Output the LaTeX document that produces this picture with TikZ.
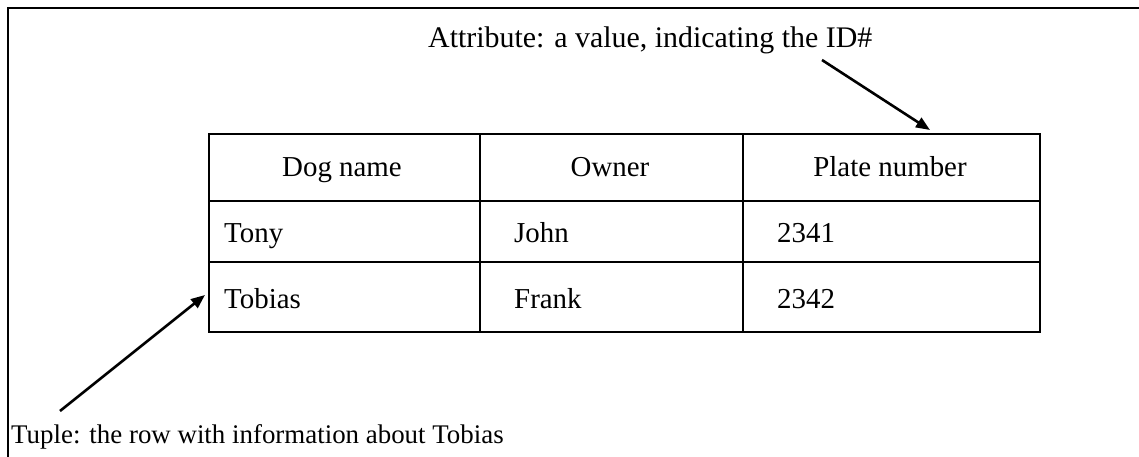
\documentclass[tikz,border=0pt]{standalone}
\usepackage{fontspec}
\setmainfont{Liberation Serif}
\usetikzlibrary{arrows.meta}
\begin{document}
\begin{tikzpicture}[x=1bp,y=-1bp,
  frame/.style={line width=2.6bp},
  cell/.style={draw,line width=2.2bp,rectangle,inner sep=0pt,anchor=north west},
  txt/.style={inner sep=0pt,anchor=base west,font=\fontsize{29}{33}\selectfont},
  ctxt/.style={inner sep=0pt,anchor=base,font=\fontsize{29}{33}\selectfont},
  pointer/.style={line width=2.6bp,-{Triangle[length=14bp,width=11bp]}}]
\useasboundingbox (0,0) rectangle (1139,457);
% outer frame (top and left edges)
\draw[frame] (1139,8) -- (8,8) -- (8,457);
% table cells
\node[cell,minimum width=271bp,minimum height=67bp] (h1) at (208,133) {};
\node[cell,minimum width=263bp,minimum height=67bp] (h2) at (479,133) {};
\node[cell,minimum width=297bp,minimum height=67bp] (h3) at (742,133) {};
\node[cell,minimum width=271bp,minimum height=61bp] (a1) at (208,200) {};
\node[cell,minimum width=263bp,minimum height=61bp] (a2) at (479,200) {};
\node[cell,minimum width=297bp,minimum height=61bp] (a3) at (742,200) {};
\node[cell,minimum width=271bp,minimum height=70bp] (b1) at (208,261) {};
\node[cell,minimum width=263bp,minimum height=70bp] (b2) at (479,261) {};
\node[cell,minimum width=297bp,minimum height=70bp] (b3) at (742,261) {};
% cell texts
\node[ctxt] (th1) at (342,177) {Dog name};
\node[ctxt] (th2) at (610,177) {Owner};
\node[ctxt] (th3) at (890,177) {Plate number};
\node[txt] (t11) at (224,243) {Tony};
\node[txt] (t12) at (514,243) {John};
\node[txt] (t13) at (777,243) {2341};
\node[txt] (t21) at (224,309) {Tobias};
\node[txt] (t22) at (514,309) {Frank};
\node[txt] (t23) at (777,309) {2342};
% labels
\node[txt,font=\fontsize{30}{34}\selectfont] (attr) at (428,48) {Attribute: a value, indicating the ID\#};
\node[txt,font=\fontsize{27}{31}\selectfont] (tuple) at (11,444) {Tuple: the row with information about Tobias};
% pointers
\coordinate (attrtail) at (822,60);
\coordinate (attrtip) at (930,130);
\coordinate (tupletail) at (60,411);
\coordinate (tupletip) at (205,295);
\draw[pointer] (attrtail) -- (attrtip);
\draw[pointer] (tupletail) -- (tupletip);
\end{tikzpicture}
\end{document}
